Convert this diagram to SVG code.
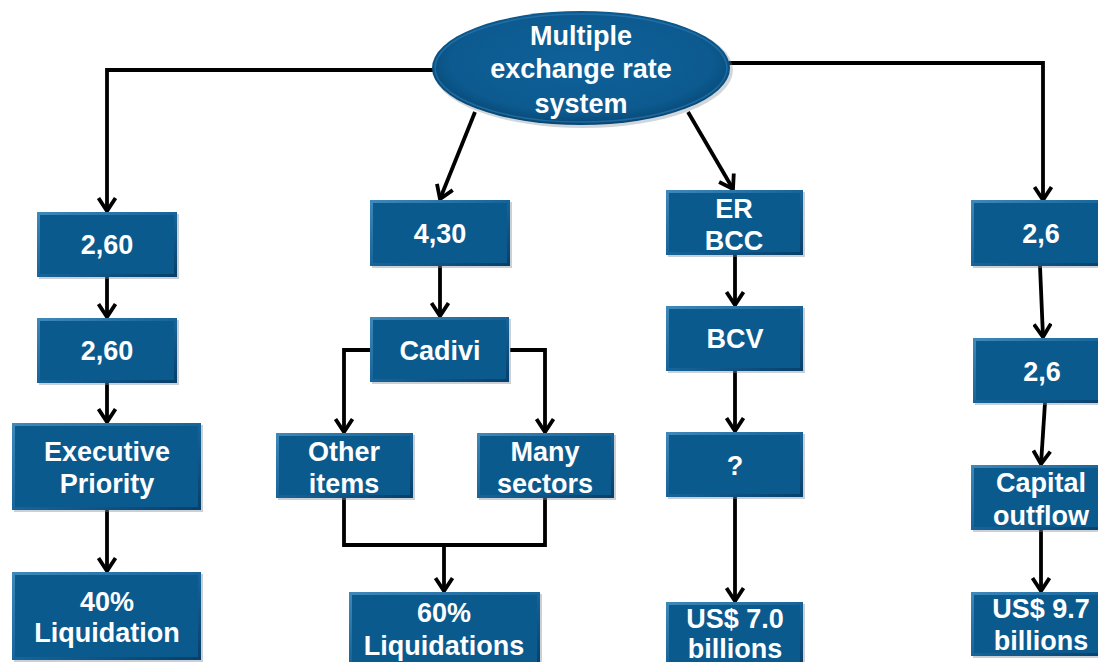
<svg xmlns="http://www.w3.org/2000/svg" width="1098" height="662" viewBox="0 0 1098 662">
<style>
.t{font-family:"Liberation Sans",Arial,sans-serif;font-weight:bold;font-size:27px;fill:#fff;text-anchor:middle}
.o{fill:url(#bev)}
.i{fill:#0b5a8e}
.sh{fill:#7a8a96;opacity:0.4}
.c{fill:none;stroke:#000;stroke-width:3.8;stroke-linejoin:miter}
.a{marker-end:url(#ah)}
</style>
<defs>
<linearGradient id="bev" x1="0" y1="0" x2="1" y2="1">
<stop offset="0" stop-color="#3f89bb"/>
<stop offset="0.5" stop-color="#16649a"/>
<stop offset="1" stop-color="#073f69"/>
</linearGradient>
<radialGradient id="eg" cx="0.5" cy="0.45" r="0.55">
<stop offset="0" stop-color="#0f619a"/>
<stop offset="0.8" stop-color="#0c5a8f"/>
<stop offset="1" stop-color="#084775"/>
</radialGradient>
<marker id="ah" viewBox="0 0 20 20" refX="15" refY="10" markerWidth="20" markerHeight="20" markerUnits="userSpaceOnUse" orient="auto">
<path d="M2,1.5 L15,10 L2,18.5" fill="none" stroke="#000" stroke-width="3.8"/>
</marker>
</defs>

<g id="connectors">
<path class="c a" d="M433,70 H107 V211"/>
<path class="c a" d="M729,63 H1043 V200"/>
<path class="c a" d="M475,112 L440,199"/>
<path class="c a" d="M688,112 L733,189"/>
<path class="c a" d="M107,277 V317"/>
<path class="c a" d="M107,383 V422"/>
<path class="c a" d="M107,510 V571"/>
<path class="c a" d="M440,266 V316"/>
<path class="c a" d="M370,350 H344 V432"/>
<path class="c a" d="M510,350 H545 V432"/>
<path class="c" d="M344,498 V545 H545 V498"/>
<path class="c a" d="M444,545 V591"/>
<path class="c a" d="M735,255 V305"/>
<path class="c a" d="M735,371 V431"/>
<path class="c a" d="M735,497 V601"/>
<path class="c a" d="M1040,266 L1043,337"/>
<path class="c a" d="M1045,403 L1041,464"/>
<path class="c a" d="M1041,530 V591"/>
</g>

<g id="root">
<ellipse cx="583" cy="70" rx="150" ry="58" fill="#7a8a96" opacity="0.35"/>
<ellipse cx="581" cy="68" rx="149" ry="57" fill="url(#eg)"/>
<ellipse cx="581" cy="68" rx="146" ry="54" fill="none" stroke="#2f7db2" stroke-width="1.5" opacity="0.6"/>
<text class="t" x="581" y="45">Multiple</text>
<text class="t" x="581" y="78">exchange rate</text>
<text class="t" x="581" y="113">system</text>
</g>

<g id="n1a"><rect class="sh" x="39" y="214" width="140" height="65"/><rect class="o" x="37" y="212" width="140" height="65"/><rect class="i" x="40" y="215" width="134" height="59"/><text class="t" x="107" y="254">2,60</text></g>
<g id="n1b"><rect class="sh" x="39" y="320" width="140" height="65"/><rect class="o" x="37" y="318" width="140" height="65"/><rect class="i" x="40" y="321" width="134" height="59"/><text class="t" x="107" y="360">2,60</text></g>
<g id="n1c"><rect class="sh" x="14" y="425" width="189" height="87"/><rect class="o" x="12" y="423" width="189" height="87"/><rect class="i" x="15" y="426" width="183" height="81"/><text class="t" x="107" y="461">Executive</text><text class="t" x="107" y="493">Priority</text></g>
<g id="n1d"><rect class="sh" x="14" y="574" width="189" height="88"/><rect class="o" x="12" y="572" width="189" height="88"/><rect class="i" x="15" y="575" width="183" height="82"/><text class="t" x="107" y="611">40%</text><text class="t" x="107" y="642">Liquidation</text></g>

<g id="n2a"><rect class="sh" x="372" y="202" width="140" height="66"/><rect class="o" x="370" y="200" width="140" height="66"/><rect class="i" x="373" y="203" width="134" height="60"/><text class="t" x="440" y="243">4,30</text></g>
<g id="n2b"><rect class="sh" x="372" y="319" width="139" height="65"/><rect class="o" x="370" y="317" width="139" height="65"/><rect class="i" x="373" y="320" width="133" height="59"/><text class="t" x="440" y="360">Cadivi</text></g>
<g id="n2c"><rect class="sh" x="278" y="435" width="137" height="65"/><rect class="o" x="276" y="433" width="137" height="65"/><rect class="i" x="279" y="436" width="131" height="59"/><text class="t" x="344" y="461">Other</text><text class="t" x="344" y="493">items</text></g>
<g id="n2d"><rect class="sh" x="479" y="435" width="137" height="65"/><rect class="o" x="477" y="433" width="137" height="65"/><rect class="i" x="480" y="436" width="131" height="59"/><text class="t" x="545" y="461">Many</text><text class="t" x="545" y="493">sectors</text></g>
<g id="n2e"><rect class="sh" x="351" y="594" width="191" height="72"/><rect class="o" x="349" y="592" width="191" height="72"/><rect class="i" x="352" y="595" width="185" height="71"/><text class="t" x="444" y="622">60%</text><text class="t" x="444" y="655">Liquidations</text></g>

<g id="n3a"><rect class="sh" x="668" y="192" width="137" height="65"/><rect class="o" x="666" y="190" width="137" height="65"/><rect class="i" x="669" y="193" width="131" height="59"/><text class="t" x="734" y="218">ER</text><text class="t" x="734" y="250">BCC</text></g>
<g id="n3b"><rect class="sh" x="668" y="308" width="137" height="65"/><rect class="o" x="666" y="306" width="137" height="65"/><rect class="i" x="669" y="309" width="131" height="59"/><text class="t" x="735" y="348">BCV</text></g>
<g id="n3c"><rect class="sh" x="668" y="434" width="137" height="65"/><rect class="o" x="666" y="432" width="137" height="65"/><rect class="i" x="669" y="435" width="131" height="59"/><text class="t" x="735" y="475">?</text></g>
<g id="n3d"><rect class="sh" x="668" y="604" width="137" height="64"/><rect class="o" x="666" y="602" width="137" height="64"/><rect class="i" x="669" y="605" width="131" height="61"/><text class="t" x="735" y="628">US$ 7.0</text><text class="t" x="735" y="658">billions</text></g>

<g id="n4a"><rect class="sh" x="973" y="202" width="140" height="66"/><rect class="o" x="971" y="200" width="140" height="66"/><rect class="i" x="974" y="203" width="134" height="60"/><text class="t" x="1041" y="243">2,6</text></g>
<g id="n4b"><rect class="sh" x="975" y="340" width="140" height="65"/><rect class="o" x="973" y="338" width="140" height="65"/><rect class="i" x="976" y="341" width="134" height="59"/><text class="t" x="1042" y="381">2,6</text></g>
<g id="n4c"><rect class="sh" x="973" y="467" width="140" height="65"/><rect class="o" x="971" y="465" width="140" height="65"/><rect class="i" x="974" y="468" width="134" height="59"/><text class="t" x="1041" y="492">Capital</text><text class="t" x="1041" y="525">outflow</text></g>
<g id="n4d"><rect class="sh" x="973" y="594" width="140" height="64"/><rect class="o" x="971" y="592" width="140" height="64"/><rect class="i" x="974" y="595" width="134" height="58"/><text class="t" x="1041" y="618">US$ 9.7</text><text class="t" x="1041" y="650">billions</text></g>
</svg>
